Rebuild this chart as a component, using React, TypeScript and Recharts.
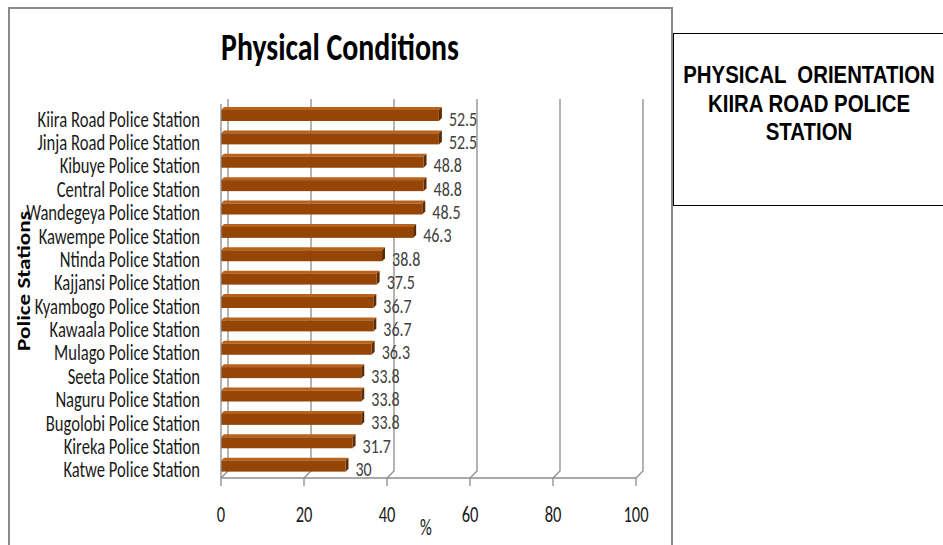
import { BarChart, Bar, XAxis, YAxis, CartesianGrid, LabelList } from 'recharts';

const stations = [
  'Kiira Road Police Station',
  'Jinja Road Police Station',
  'Kibuye Police Station',
  'Central Police Station',
  'Wandegeya Police Station',
  'Kawempe Police Station',
  'Ntinda Police Station',
  'Kajjansi Police Station',
  'Kyambogo Police Station',
  'Kawaala Police Station',
  'Mulago Police Station',
  'Seeta Police Station',
  'Naguru Police Station',
  'Bugolobi Police Station',
  'Kireka Police Station',
  'Katwe Police Station',
];
const percents = [52.5, 52.5, 48.8, 48.8, 48.5, 46.3, 38.8, 37.5, 36.7, 36.7, 36.3, 33.8, 33.8, 33.8, 31.7, 30];
const xTicks = [0, 20, 40, 60, 80, 100];

const data = stations.map((name, i) => ({ name, value: percents[i] }));

const FONT = 'Carlito, "Liberation Sans Narrow", "DejaVu Sans Condensed", sans-serif';
const ARIAL = '"Liberation Sans", Arial, sans-serif';
// the original picture is stretched vertically, so every text gets taller
const SY = 1.3;

const Bar3D = (props: any) => {
  const { x, y, width, height } = props;
  const d = 3;
  return (
    <g>
      <polygon points={`${x},${y} ${x + d},${y - d} ${x + width + d},${y - d} ${x + width},${y}`} fill="#b8621c" />
      <polygon points={`${x + width},${y} ${x + width + d},${y - d} ${x + width + d},${y + height - d} ${x + width},${y + height}`} fill="#5e2a02" />
      <rect x={x} y={y} width={width} height={height} fill="#954505" />
    </g>
  );
};

const GridLine = (props: any) => {
  const { x1, y1, y2 } = props;
  const k = 7;
  return (
    <polyline
      key={props.key}
      points={`${x1 + k},${y1 - 5} ${x1 + k},${y2 - 7} ${x1},${y2} ${x1},${y2 + 8}`}
      fill="none"
      stroke="#8c8c8c"
      strokeWidth={1.3}
    />
  );
};

const YTick = (props: any) => {
  const { y, payload } = props;
  return (
    <text transform={`translate(200, ${y + 11}) scale(1, ${SY})`} textAnchor="end" fontSize={16.6} fill="#1a1a1a" fontFamily={FONT}>
      {payload.value}
    </text>
  );
};

const XTick = (props: any) => {
  const { x, y, payload } = props;
  return (
    <text transform={`translate(${x}, ${y + 42}) scale(1, ${SY})`} textAnchor="middle" fontSize={16.5} fill="#1a1a1a" fontFamily={FONT}>
      {payload.value}
    </text>
  );
};

const ValueLabel = (props: any) => {
  const { x, y, width, height, value } = props;
  return (
    <text transform={`translate(${x + width + 10}, ${y + height / 2 + 10}) scale(1, ${SY})`} fontSize={16} fill="#404040" fontFamily={FONT}>
      {value}
    </text>
  );
};

export default function App() {
  return (
    <div style={{ position: 'fixed', left: 0, top: 0, width: 943, height: 545, background: '#fff', overflow: 'hidden' }}>
      {/* outer chart frame */}
      <div style={{ position: 'absolute', left: 8, top: 7, width: 661, height: 560, borderTop: '2px solid #8a8a8a', borderLeft: '2px solid #8a8a8a', borderRight: '2px solid #8a8a8a' }} />
      <div style={{ position: 'absolute', left: 0, top: 0 }}>
        <BarChart width={680} height={545} data={data} layout="vertical" margin={{ top: 104, right: 44, bottom: 27, left: 0 }} barSize={11}>
          <CartesianGrid horizontal={false} vertical={GridLine} />
          <XAxis
            type="number"
            domain={[0, 100]}
            ticks={xTicks}
            height={40}
            tickLine={false}
            tickSize={0}
            axisLine={{ stroke: '#8c8c8c', strokeWidth: 1.3 }}
            tick={XTick}
          />
          <YAxis
            type="category"
            dataKey="name"
            width={221}
            tickLine={false}
            axisLine={{ stroke: '#8c8c8c', strokeWidth: 1.3 }}
            tick={YTick}
            interval={0}
          />
          <Bar dataKey="value" shape={Bar3D} isAnimationActive={false}>
            <LabelList dataKey="value" content={ValueLabel} />
          </Bar>
        </BarChart>
      </div>
      {/* side box */}
      <div style={{ position: 'absolute', left: 673, top: 33, width: 280, height: 171, border: '1.5px solid #000', background: '#fff' }} />
      <svg width={943} height={545} style={{ position: 'absolute', left: 0, top: 0, pointerEvents: 'none' }}>
        <text transform={`translate(340, 60) scale(1, ${SY})`} textAnchor="middle" fontSize={29.8} fontWeight={700} fontFamily={FONT} fill="#000">
          Physical Conditions
        </text>
        <text transform={`translate(30, 281) rotate(-90) scale(1.25, 1)`} textAnchor="middle" fontSize={18.5} fontWeight={700} fontFamily={FONT} fill="#000">
          Police Stations
        </text>
        <text transform={`translate(426, 535) scale(1, ${SY})`} textAnchor="middle" fontSize={16.5} fontFamily={FONT} fill="#1a1a1a">
          %
        </text>
        <g fontFamily={ARIAL} fontWeight={700} fontSize={20.4} fill="#000" textAnchor="middle">
          <text transform={`translate(809, 83) scale(1, 1.15)`} xmlSpace="preserve">PHYSICAL  ORIENTATION</text>
          <text transform={`translate(809, 112) scale(1, 1.15)`}>KIIRA ROAD POLICE</text>
          <text transform={`translate(809, 140) scale(1, 1.15)`}>STATION</text>
        </g>
      </svg>
    </div>
  );
}
